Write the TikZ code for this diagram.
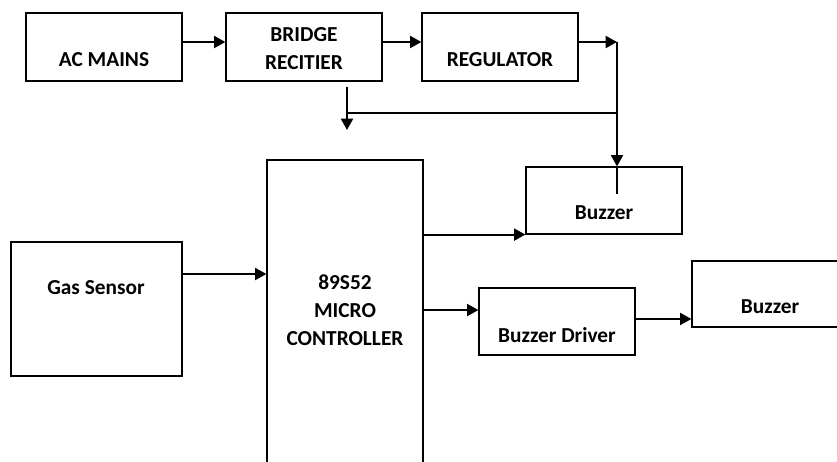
\documentclass[tikz,border=0pt]{standalone}
\usepackage{fontspec}
\setmainfont{Carlito}
\usepackage{tikz}
\usetikzlibrary{arrows.meta,calc}
\tikzset{
	blk/.style={draw,line width=.9pt,minimum width=117pt,minimum height=51pt,inner sep=0pt},
	lbl/.style={font=\fontsize{16}{20.5}\selectfont\bfseries,align=center,inner sep=0pt},
	conn/.style={line width=1.5pt,-{Triangle[length=8.5pt,width=9pt]}},
	wire/.style={line width=.9pt},
}

\begin{document}
\begin{tikzpicture}[x=.75pt,y=-.75pt]
	\useasboundingbox (0,0) rectangle (837,461);
	
	% power supply chain
	\node[blk] (acmains) at (104,47) {};
	\node[blk] (bridge) at (304,47) {};
	\node[blk] (regulator) at (500,47) {};
	\node[lbl] (acmains-txt) at (104,60) {AC MAINS};
	\node[lbl] (bridge-txt) at (304,48.5) {BRIDGE\\RECITIER};
	\node[lbl] (regulator-txt) at (500,60) {REGULATOR};
	
	\draw[conn] ([yshift=3.75pt]acmains.east) -- ([yshift=3.75pt]bridge.west);
	\draw[conn] ([yshift=3.75pt]bridge.east) -- ([yshift=3.75pt]regulator.west);
	
	\coordinate (tap) at (617,42);
	\coordinate (junc) at (617,113);
	\coordinate (drop) at (347,87);
	\coordinate (dropend) at (347,130);
	\coordinate (stub) at (617,194);
	
	\draw[conn] ([yshift=3.75pt]regulator.east) -- (tap);
	
%	================================================
	\node[blk,minimum height=228pt] (mcu) at (345,312) {};
	\node[lbl,font=\fontsize{16}{21}\selectfont\bfseries] (mcu-txt) at (345,310)
	{89S52\\MICRO\\CONTROLLER};
	
	\node[blk,minimum width=128.25pt,minimum height=100.5pt] (gas) at (96.5,309) {};
	\node[lbl] (gas-txt) at (96,288) {Gas Sensor};
	
	\node[blk,minimum height=50.25pt] (buzz1) at (604,200.5) {};
	\node[lbl] (buzz1-txt) at (604,213) {Buzzer};
	
	\node[blk,minimum height=50.25pt] (driver) at (557,321.5) {};
	\node[lbl] (driver-txt) at (557,335) {Buzzer Driver};
	
	\node[blk,minimum height=49.5pt] (buzz2) at (770,294) {};
	\node[lbl] (buzz2-txt) at (770,307) {Buzzer};
	
	% tap points on the block sides
	\coordinate (gas-out) at ([yshift=26.25pt]gas.east);
	\coordinate (drv-in) at ([yshift=8.6pt]driver.west);
	\coordinate (drv-out) at ([yshift=1.9pt]driver.east);
	
%	================================================
	% supply rails
	\draw[wire] (tap) -- (junc) -- (drop |- junc);
	\draw[conn] (junc) -- (tap |- buzz1.north);
	\draw[wire] (tap |- buzz1.north) -- (stub);
	\draw[conn] (drop) -- (dropend);
	
	% signal path
	\draw[conn] (gas-out) -- (mcu.west |- gas-out);
	\draw[conn] (mcu.east |- buzz1.south west) -- (buzz1.south west);
	\draw[conn] (mcu.east |- drv-in) -- (drv-in);
	\draw[conn] (drv-out) -- (buzz2.west |- drv-out);
	
\end{tikzpicture}
\end{document}
